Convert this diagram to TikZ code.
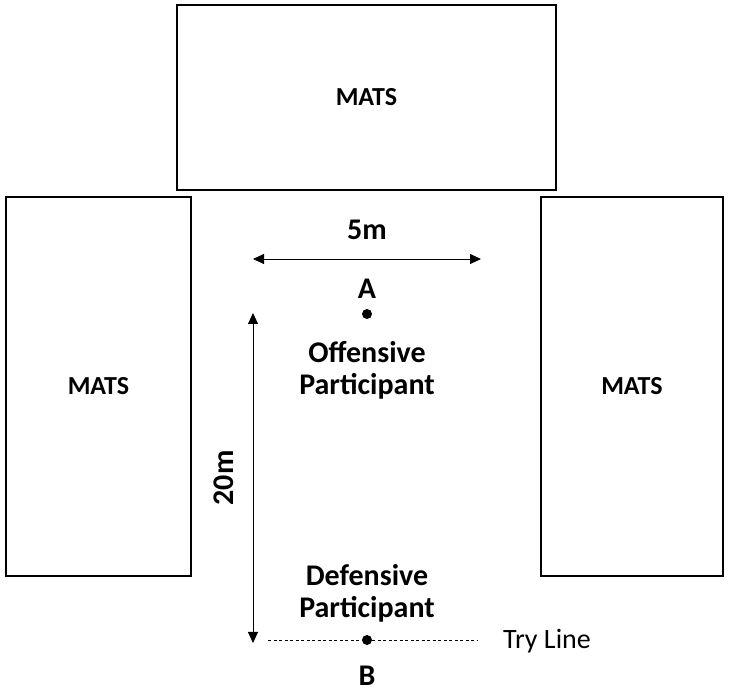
\documentclass[tikz,border=0pt]{standalone}
\usepackage{fontspec}
\setmainfont{Carlito}
\usetikzlibrary{arrows.meta}

\begin{document}
\begin{tikzpicture}[x=1pt,y=-1pt,
	mats/.style={draw,line width=1.2pt,font=\fontsize{26}{30}\selectfont\bfseries},
	lbl/.style={font=\fontsize{30}{32}\selectfont\bfseries,align=center,inner sep=0pt},
	dot/.style={circle,fill,inner sep=0pt,minimum size=10pt},
	dim/.style={line width=0.9pt,{Triangle[length=11pt,width=10pt]}-{Triangle[length=11pt,width=10pt]}}]
	\useasboundingbox (0,0) rectangle (732,692);
	% mats
	\foreach \N/\X/\Y/\W/\H in {top/177/5/556/190, left/6/197/191/576, right/541/197/723/576}
	{\draw[mats] (\X,\Y) rectangle (\W,\H) node[midway] (\N) {MATS};}
	% participants
	\node[dot] (A) at (367,314) {};
	\node[dot] (B) at (367,640) {};
	\node[lbl] (la) at (367,289) {A};
	\node[lbl] (lb) at (367,676) {B};
	\node[lbl] (off) at (367,370) {Offensive\\Participant};
	\node[lbl] (def) at (367,593) {Defensive\\Participant};
	% distances
	\coordinate (w1) at (253,259);
	\coordinate (w2) at (481,259);
	\coordinate (h1) at (253,313);
	\coordinate (h2) at (253,643);
	\draw[dim] (w1) -- (w2) node[lbl,midway,above=19pt] (five) {5m};
	\draw[dim] (h1) -- (h2) node[lbl,midway,left=19pt,rotate=90,anchor=south] (twenty) {20m};
	% try line
	\coordinate (t1) at (268,640);
	\coordinate (t2) at (477,640);
	\draw[dashed,dash pattern=on 3pt off 2.5pt,line width=0.7pt] (t1) -- (B) -- (t2);
	\node[font=\fontsize{28}{30}\selectfont,anchor=west,inner sep=0pt] (try) at (503,641) {Try Line};
\end{tikzpicture}
\end{document}
